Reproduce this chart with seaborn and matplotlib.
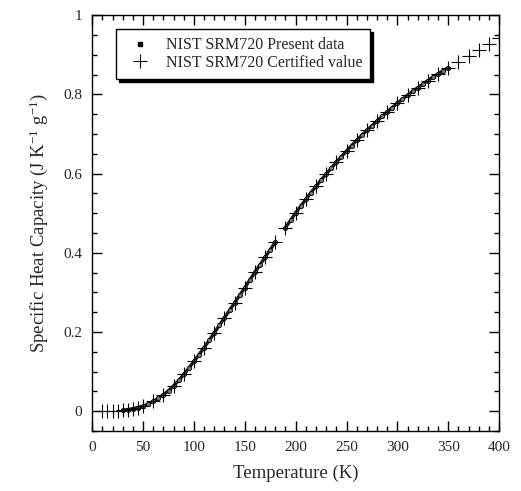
import numpy as np
import matplotlib
matplotlib.use("Agg")
import matplotlib.pyplot as plt
import matplotlib.ticker as mticker
from matplotlib.lines import Line2D
import seaborn as sns

# certified values (K, J K-1 g-1)
cert_T = [10, 15, 20, 25, 30, 35, 40, 45, 50, 60, 70, 80, 90, 100, 110, 120,
          130, 140, 150, 160, 170, 180, 190, 200, 210, 220, 230, 240, 250,
          260, 270, 280, 290, 300, 310, 320, 330, 340, 350, 360, 370, 380,
          390, 400]
cert_cp = [0.0001, 0.0003, 0.0008, 0.0015, 0.0025, 0.0043, 0.0066, 0.0095,
           0.013, 0.025, 0.042, 0.064, 0.093, 0.126, 0.161, 0.198, 0.236,
           0.274, 0.312, 0.351, 0.389, 0.427, 0.464, 0.501, 0.535, 0.568,
           0.599, 0.629, 0.657, 0.684, 0.709, 0.733, 0.756, 0.778, 0.798,
           0.817, 0.835, 0.852, 0.868, 0.883, 0.898, 0.912, 0.927, 0.942]

# present measurements, two runs (gap near 185 K)
pres_T_low = [30, 35, 40, 45, 50, 55, 60, 65, 70, 75, 80, 85, 90, 95, 100,
              105, 110, 115, 120, 125, 130, 135, 140, 145, 150, 155, 160,
              165, 170, 175, 180]
pres_cp_low = [0.0025, 0.0043, 0.0066, 0.0095, 0.013, 0.018, 0.025, 0.033,
               0.042, 0.052, 0.064, 0.078, 0.093, 0.109, 0.126, 0.143, 0.161,
               0.179, 0.198, 0.217, 0.236, 0.255, 0.274, 0.293, 0.312, 0.332,
               0.351, 0.370, 0.389, 0.408, 0.427]
pres_T_high = [190, 195, 200, 205, 210, 215, 220, 225, 230, 235, 240, 245,
               250, 255, 260, 265, 270, 275, 280, 285, 290, 295, 300, 305,
               310, 315, 320, 325, 330, 335, 340, 345, 350]
pres_cp_high = [0.464, 0.482, 0.501, 0.518, 0.535, 0.552, 0.568, 0.584,
                0.599, 0.614, 0.629, 0.643, 0.657, 0.671, 0.684, 0.697, 0.709,
                0.721, 0.733, 0.745, 0.756, 0.767, 0.778, 0.788, 0.798, 0.808,
                0.817, 0.826, 0.835, 0.844, 0.852, 0.860, 0.868]

sns.set_style("ticks")
plt.rcParams["font.family"] = ["Liberation Serif", "DejaVu Serif"]
plt.rcParams["mathtext.fontset"] = "custom"
plt.rcParams["mathtext.rm"] = "Liberation Serif"
plt.rcParams["mathtext.it"] = "Liberation Serif:italic"

fig = plt.figure(figsize=(5.21, 4.91), dpi=100)
ax = fig.add_axes([0.177, 0.122, 0.781, 0.847])

# dense present data drawn as a chain of small dots
for tt, cc in [(pres_T_low, pres_cp_low), (pres_T_high, pres_cp_high)]:
    sns.lineplot(x=tt, y=cc, ax=ax, color="#1a1a1a", linewidth=2.4,
                 marker="o", markersize=3, markerfacecolor="#777777",
                 markeredgecolor="black", markeredgewidth=0.6,
                 sort=False, zorder=3)
sns.scatterplot(x=cert_T, y=cert_cp, ax=ax, marker="+", s=95,
                color="black", linewidth=0.8, zorder=4)

ax.set_xlim(0, 400)
ax.set_ylim(-0.05, 1.0)
ax.xaxis.set_major_locator(mticker.MultipleLocator(50))
ax.xaxis.set_minor_locator(mticker.MultipleLocator(10))
ax.yaxis.set_major_locator(mticker.MultipleLocator(0.2))
ax.yaxis.set_minor_locator(mticker.MultipleLocator(0.05))
ax.yaxis.set_major_formatter(mticker.FuncFormatter(lambda v, p: "%g" % round(v, 2)))
ax.tick_params(which="both", direction="in", top=True, right=True,
               labelsize=11, color="black", width=1.0)
ax.tick_params(which="major", length=7, pad=7)
ax.tick_params(which="minor", length=3.5)
for sp in ax.spines.values():
    sp.set_linewidth(1.0)
    sp.set_color("black")

ax.set_xlabel("Temperature (K)", fontsize=13.5, labelpad=8)
ax.set_ylabel("Specific Heat Capacity (J K$^{-1}$ g$^{-1}$)", fontsize=13.5,
              labelpad=10)

handles = [
    Line2D([], [], linestyle="none", marker="s", markersize=2.5,
           color="black"),
    Line2D([], [], linestyle="none", marker="+", markersize=10,
           markeredgewidth=0.8, color="black"),
]
labels = ["NIST SRM720 Present data", "NIST SRM720 Certified value"]
leg = ax.legend(handles, labels, loc="upper left",
                bbox_to_anchor=(0.04, 0.985),
                frameon=True, fancybox=False, edgecolor="black",
                shadow={"color": "black", "alpha": 1.0}, fontsize=11.5,
                labelspacing=0.1, handletextpad=0.6, borderpad=0.5)
leg.get_frame().set_linewidth(1.0)
leg.get_frame().set_alpha(1)

fig.savefig("out.png", dpi=100)
